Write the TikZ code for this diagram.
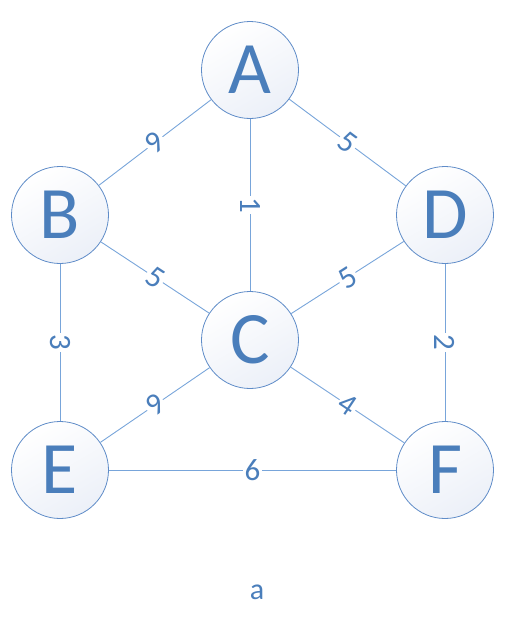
\documentclass[tikz,border=0pt]{standalone}
\usepackage{fontspec}
\setmainfont{Carlito}
\definecolor{txtblue}{RGB}{74,126,187}
\definecolor{edgeblue}{RGB}{120,165,218}
\definecolor{rimblue}{RGB}{95,140,200}
\definecolor{fillend}{RGB}{236,240,248}
\begin{document}
\begin{tikzpicture}[x=1pt,y=-1pt,
  vert/.style={circle,draw=rimblue,line width=0.8pt,minimum size=97pt,inner sep=0pt,
    shading=axis,top color=white,bottom color=fillend,shading angle=30,
    text=txtblue,font=\fontsize{74}{74}\selectfont},
  edge/.style={draw=edgeblue,line width=0.9pt},
  wlabel/.style={midway,sloped,fill=white,inner sep=1.5pt,text=txtblue,font=\fontsize{31}{31}\selectfont}]
\useasboundingbox (0,0) rectangle (510,629);
\node[vert] (A) at (250,70) {A};
\node[vert] (B) at (60,215) {B};
\node[vert] (D) at (445,215) {D};
\node[vert] (C) at (250,340) {C};
\node[vert] (E) at (60,470) {E};
\node[vert] (F) at (445,470) {F};
\path[edge] (A) -- (B) node[wlabel] {9};
\path[edge] (A) -- (D) node[wlabel] {5};
\path[edge] (A) -- (C) node[wlabel] {1};
\path[edge] (B) -- (C) node[wlabel] {5};
\path[edge] (D) -- (C) node[wlabel] {5};
\path[edge] (B) -- (E) node[wlabel] {3};
\path[edge] (D) -- (F) node[wlabel] {2};
\path[edge] (C) -- (E) node[wlabel] {9};
\path[edge] (C) -- (F) node[wlabel] {4};
\path[edge] (E) -- (F) node[wlabel] {6};
\node[text=txtblue,font=\fontsize{30}{30}\selectfont] (cap) at (257,592) {a};
\end{tikzpicture}
\end{document}
